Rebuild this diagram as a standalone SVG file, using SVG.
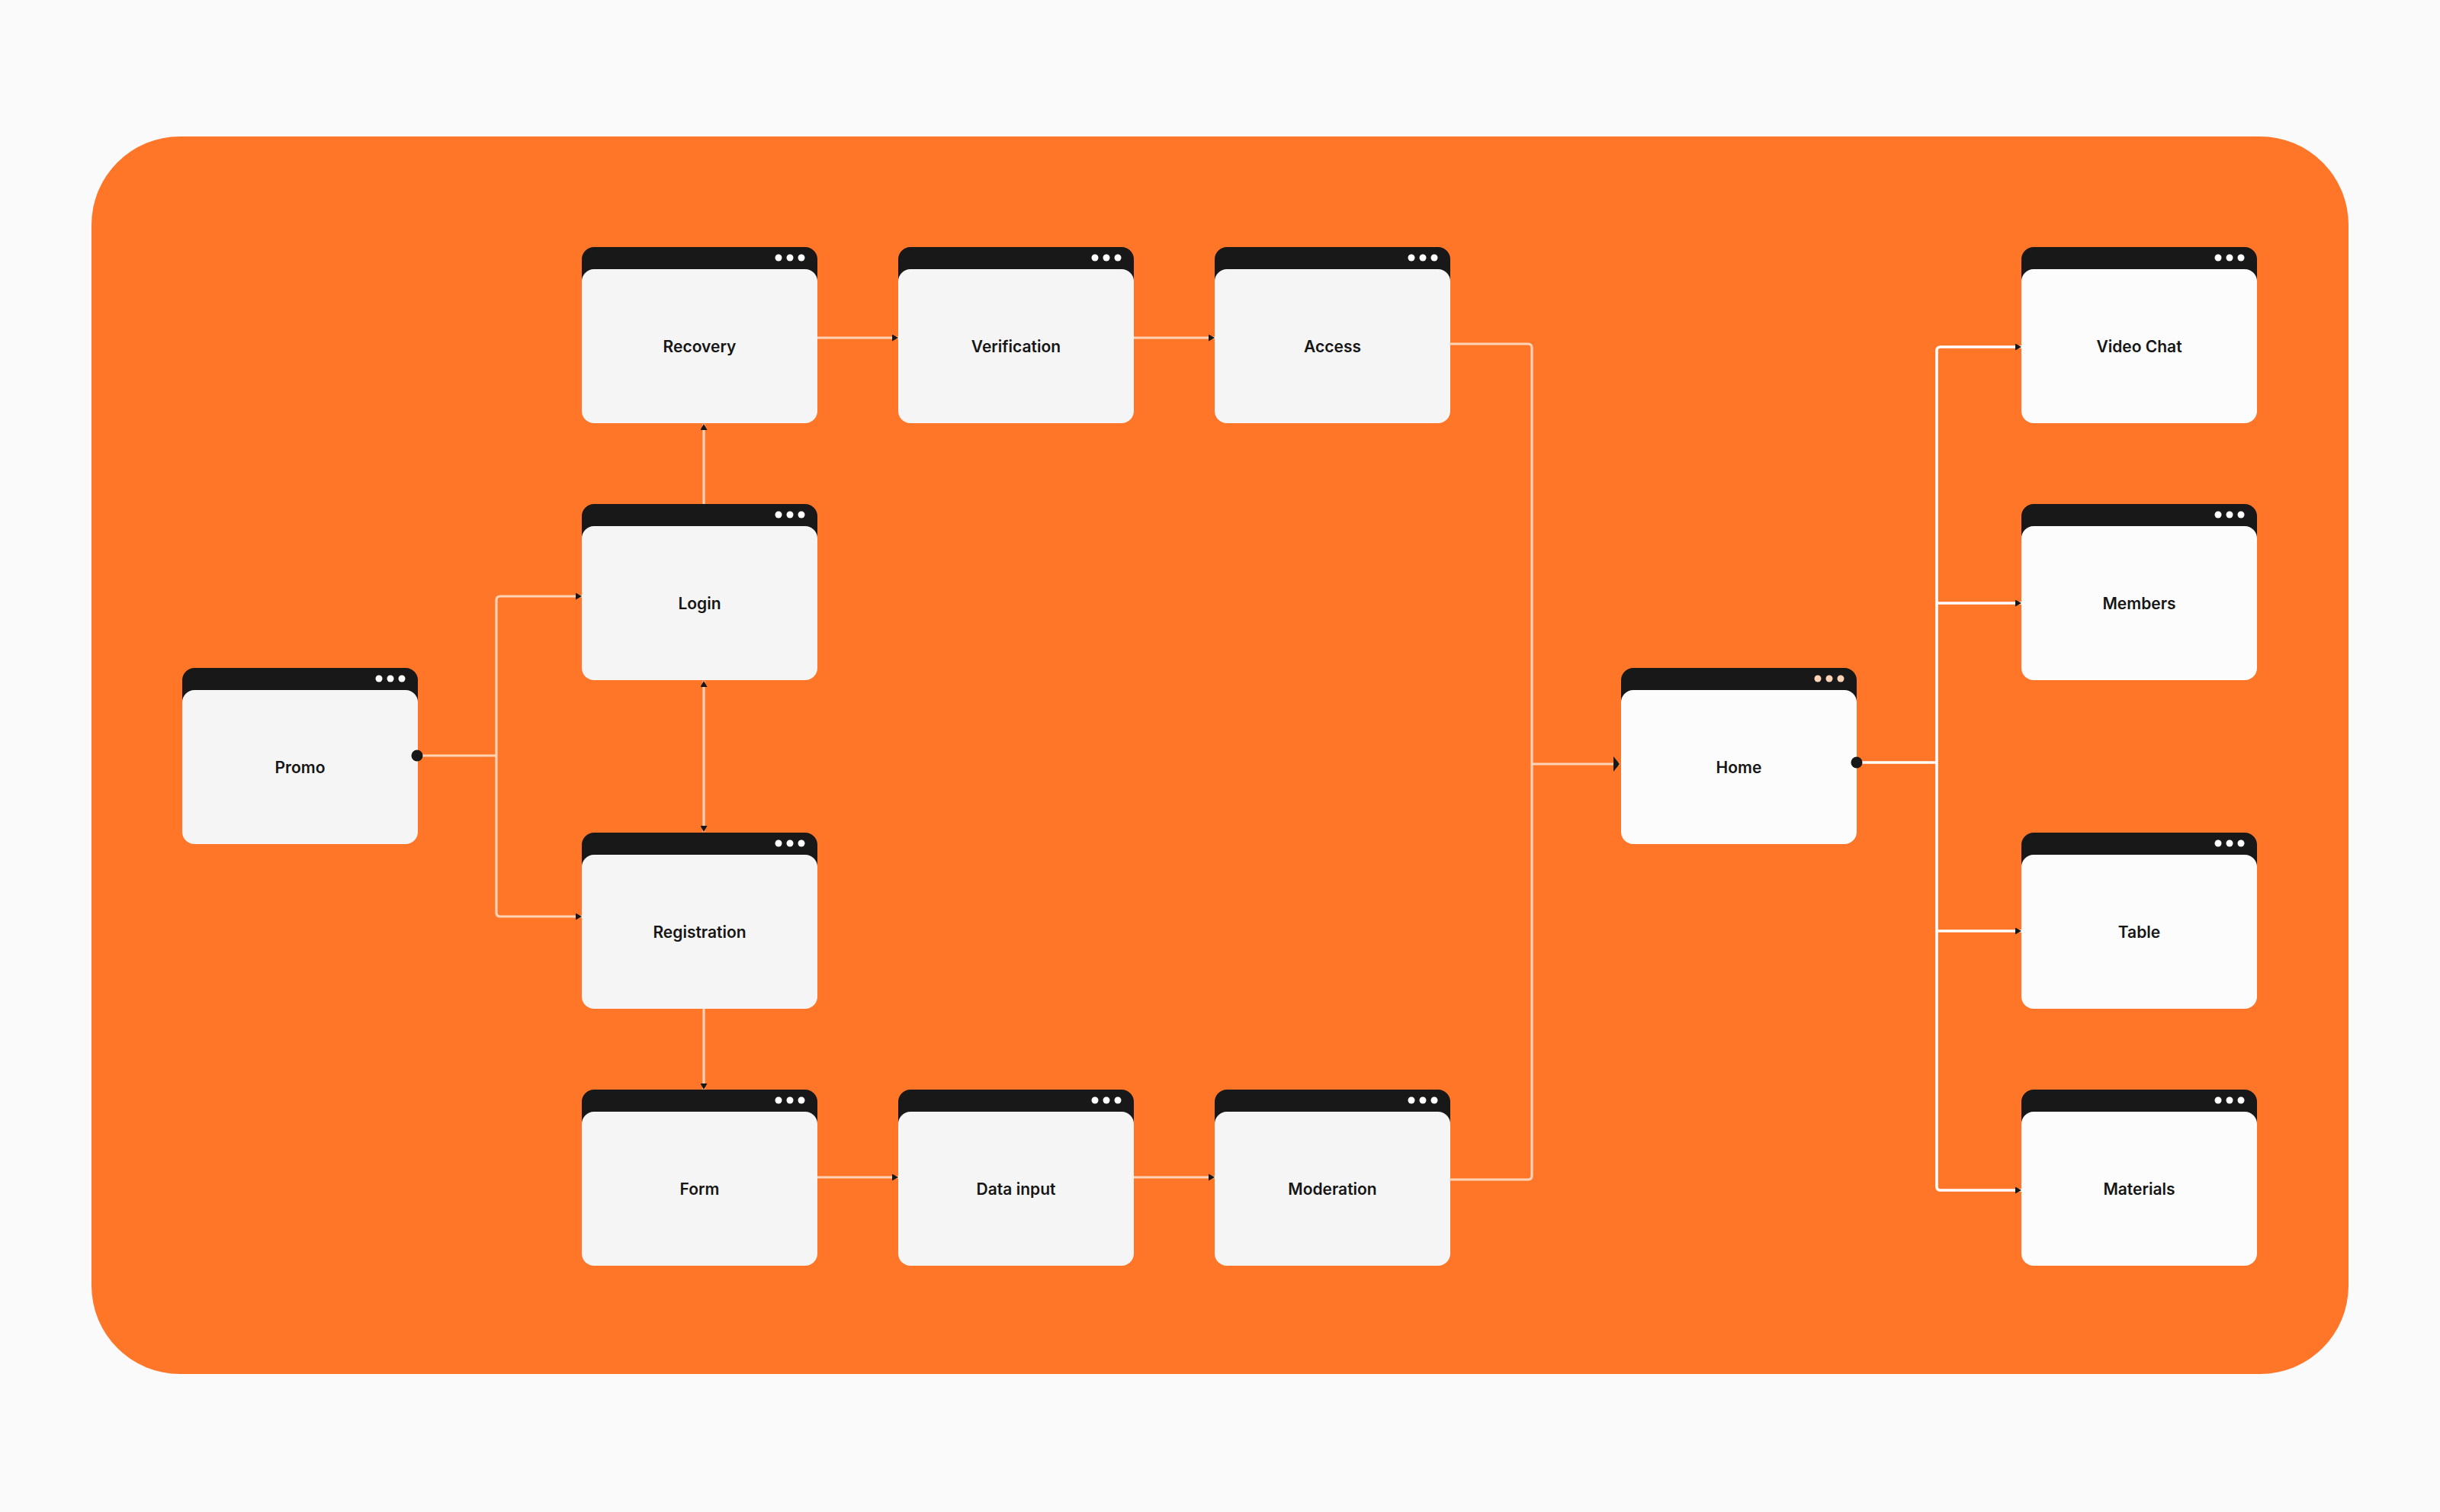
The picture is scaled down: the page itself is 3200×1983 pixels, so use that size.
<svg xmlns="http://www.w3.org/2000/svg" width="3200" height="1983" viewBox="0 0 3200 1983">
<defs>
<style>
.hdr{fill:#181818}
.body{fill:#F5F5F5}
.body2{fill:#FCFCFC}
.dot{fill:#FFFFFF}
.dot2{fill:#FFD3B5}
.lbl{font-family:Inter,"Liberation Sans",sans-serif;font-weight:600;font-size:21px;fill:#161616;text-anchor:middle}
.pl{fill:none;stroke:#FFD3B8;stroke-width:3.2}
.wl{fill:none;stroke:#FFFFFF;stroke-width:3.6}
</style>
<marker id="arr" viewBox="0 0 8 9" refX="8" refY="4.5" markerWidth="8" markerHeight="9" markerUnits="userSpaceOnUse" orient="auto-start-reverse">
<path d="M0,0 L8,4.5 L0,9 Z" fill="#181818"/>
</marker>
<marker id="arrBig" viewBox="0 0 8 20" refX="8" refY="10" markerWidth="8" markerHeight="20" markerUnits="userSpaceOnUse" orient="auto">
<path d="M0,0 L8,10 L0,20 Z" fill="#181818"/>
</marker>
</defs>
<rect x="0" y="0" width="3200" height="1983" fill="#FAFAFA"/>
<rect x="120" y="179" width="2960" height="1623" rx="116" ry="116" fill="#FF7629"/>

<g id="node-promo">
<rect class="hdr" x="239" y="876" width="309" height="100" rx="16"/>
<rect class="body" x="239" y="905" width="309" height="202" rx="16"/>
<circle class="dot" cx="497" cy="890" r="4.5"/><circle class="dot" cx="512" cy="890" r="4.5"/><circle class="dot" cx="527" cy="890" r="4.5"/>
<text class="lbl" x="393.5" y="1014">Promo</text>
</g>
<g id="node-recovery">
<rect class="hdr" x="763" y="324" width="309" height="100" rx="16"/>
<rect class="body" x="763" y="353" width="309" height="202" rx="16"/>
<circle class="dot" cx="1021" cy="338" r="4.5"/><circle class="dot" cx="1036" cy="338" r="4.5"/><circle class="dot" cx="1051" cy="338" r="4.5"/>
<text class="lbl" x="917.5" y="462">Recovery</text>
</g>
<g id="node-verification">
<rect class="hdr" x="1178" y="324" width="309" height="100" rx="16"/>
<rect class="body" x="1178" y="353" width="309" height="202" rx="16"/>
<circle class="dot" cx="1436" cy="338" r="4.5"/><circle class="dot" cx="1451" cy="338" r="4.5"/><circle class="dot" cx="1466" cy="338" r="4.5"/>
<text class="lbl" x="1332.5" y="462">Verification</text>
</g>
<g id="node-access">
<rect class="hdr" x="1593" y="324" width="309" height="100" rx="16"/>
<rect class="body" x="1593" y="353" width="309" height="202" rx="16"/>
<circle class="dot" cx="1851" cy="338" r="4.5"/><circle class="dot" cx="1866" cy="338" r="4.5"/><circle class="dot" cx="1881" cy="338" r="4.5"/>
<text class="lbl" x="1747.5" y="462">Access</text>
</g>
<g id="node-login">
<rect class="hdr" x="763" y="661" width="309" height="100" rx="16"/>
<rect class="body" x="763" y="690" width="309" height="202" rx="16"/>
<circle class="dot" cx="1021" cy="675" r="4.5"/><circle class="dot" cx="1036" cy="675" r="4.5"/><circle class="dot" cx="1051" cy="675" r="4.5"/>
<text class="lbl" x="917.5" y="799">Login</text>
</g>
<g id="node-registration">
<rect class="hdr" x="763" y="1092" width="309" height="100" rx="16"/>
<rect class="body" x="763" y="1121" width="309" height="202" rx="16"/>
<circle class="dot" cx="1021" cy="1106" r="4.5"/><circle class="dot" cx="1036" cy="1106" r="4.5"/><circle class="dot" cx="1051" cy="1106" r="4.5"/>
<text class="lbl" x="917.5" y="1230">Registration</text>
</g>
<g id="node-form">
<rect class="hdr" x="763" y="1429" width="309" height="100" rx="16"/>
<rect class="body" x="763" y="1458" width="309" height="202" rx="16"/>
<circle class="dot" cx="1021" cy="1443" r="4.5"/><circle class="dot" cx="1036" cy="1443" r="4.5"/><circle class="dot" cx="1051" cy="1443" r="4.5"/>
<text class="lbl" x="917.5" y="1567">Form</text>
</g>
<g id="node-data-input">
<rect class="hdr" x="1178" y="1429" width="309" height="100" rx="16"/>
<rect class="body" x="1178" y="1458" width="309" height="202" rx="16"/>
<circle class="dot" cx="1436" cy="1443" r="4.5"/><circle class="dot" cx="1451" cy="1443" r="4.5"/><circle class="dot" cx="1466" cy="1443" r="4.5"/>
<text class="lbl" x="1332.5" y="1567">Data input</text>
</g>
<g id="node-moderation">
<rect class="hdr" x="1593" y="1429" width="309" height="100" rx="16"/>
<rect class="body" x="1593" y="1458" width="309" height="202" rx="16"/>
<circle class="dot" cx="1851" cy="1443" r="4.5"/><circle class="dot" cx="1866" cy="1443" r="4.5"/><circle class="dot" cx="1881" cy="1443" r="4.5"/>
<text class="lbl" x="1747.5" y="1567">Moderation</text>
</g>
<g id="node-home">
<rect class="hdr" x="2126" y="876" width="309" height="100" rx="16"/>
<rect class="body2" x="2126" y="905" width="309" height="202" rx="16"/>
<circle class="dot2" cx="2384" cy="890" r="4.5"/><circle class="dot2" cx="2399" cy="890" r="4.5"/><circle class="dot2" cx="2414" cy="890" r="4.5"/>
<text class="lbl" x="2280.5" y="1014">Home</text>
</g>
<g id="node-video-chat">
<rect class="hdr" x="2651" y="324" width="309" height="100" rx="16"/>
<rect class="body2" x="2651" y="353" width="309" height="202" rx="16"/>
<circle class="dot" cx="2909" cy="338" r="4.5"/><circle class="dot" cx="2924" cy="338" r="4.5"/><circle class="dot" cx="2939" cy="338" r="4.5"/>
<text class="lbl" x="2805.5" y="462">Video Chat</text>
</g>
<g id="node-members">
<rect class="hdr" x="2651" y="661" width="309" height="100" rx="16"/>
<rect class="body2" x="2651" y="690" width="309" height="202" rx="16"/>
<circle class="dot" cx="2909" cy="675" r="4.5"/><circle class="dot" cx="2924" cy="675" r="4.5"/><circle class="dot" cx="2939" cy="675" r="4.5"/>
<text class="lbl" x="2805.5" y="799">Members</text>
</g>
<g id="node-table">
<rect class="hdr" x="2651" y="1092" width="309" height="100" rx="16"/>
<rect class="body2" x="2651" y="1121" width="309" height="202" rx="16"/>
<circle class="dot" cx="2909" cy="1106" r="4.5"/><circle class="dot" cx="2924" cy="1106" r="4.5"/><circle class="dot" cx="2939" cy="1106" r="4.5"/>
<text class="lbl" x="2805.5" y="1230">Table</text>
</g>
<g id="node-materials">
<rect class="hdr" x="2651" y="1429" width="309" height="100" rx="16"/>
<rect class="body2" x="2651" y="1458" width="309" height="202" rx="16"/>
<circle class="dot" cx="2909" cy="1443" r="4.5"/><circle class="dot" cx="2924" cy="1443" r="4.5"/><circle class="dot" cx="2939" cy="1443" r="4.5"/>
<text class="lbl" x="2805.5" y="1567">Materials</text>
</g>

<g id="connectors">
<path class="pl" d="M547,991 H651"/>
<path class="pl" d="M651,991 V787 Q651,782 656,782 H763" marker-end="url(#arr)"/>
<path class="pl" d="M651,991 V1197 Q651,1202 656,1202 H763" marker-end="url(#arr)"/>
<path class="pl" d="M923,661 V556" marker-end="url(#arr)"/>
<path class="pl" d="M923,893 V1091" marker-start="url(#arr)" marker-end="url(#arr)"/>
<path class="pl" d="M923,1323 V1429" marker-end="url(#arr)"/>
<path class="pl" d="M1072,443 H1178" marker-end="url(#arr)"/>
<path class="pl" d="M1487,443 H1593" marker-end="url(#arr)"/>
<path class="pl" d="M1072,1544 H1178" marker-end="url(#arr)"/>
<path class="pl" d="M1487,1544 H1593" marker-end="url(#arr)"/>
<path class="pl" d="M1901,451 H2004 Q2009,451 2009,456 V1542 Q2009,1547 2004,1547 H1901"/>
<path class="pl" d="M2009,1002 H2124" marker-end="url(#arrBig)"/>
<path class="wl" d="M2435,1000 H2540"/>
<path class="wl" d="M2540,1000 V460 Q2540,455 2545,455 H2651" marker-end="url(#arr)"/>
<path class="wl" d="M2540,791 H2651" marker-end="url(#arr)"/>
<path class="wl" d="M2540,1221 H2651" marker-end="url(#arr)"/>
<path class="wl" d="M2540,1000 V1556 Q2540,1561 2545,1561 H2651" marker-end="url(#arr)"/>
<circle cx="547" cy="991" r="7.5" fill="#181818"/>
<circle cx="2435" cy="1000" r="7.5" fill="#181818"/>
</g>
</svg>
